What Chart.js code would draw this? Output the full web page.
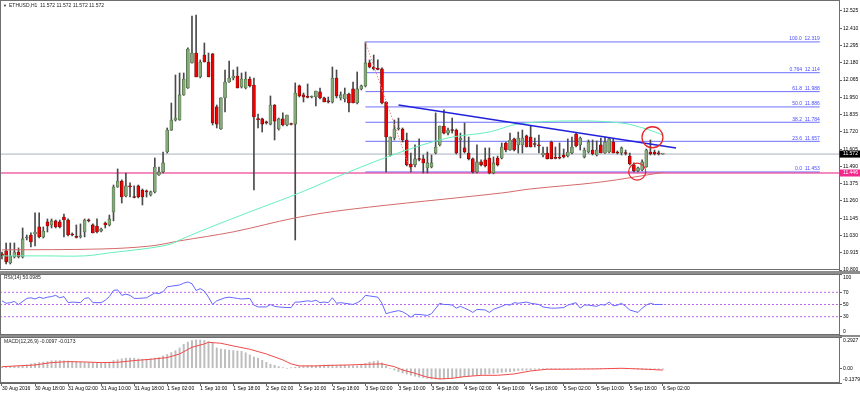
<!DOCTYPE html>
<html><head><meta charset="utf-8">
<script src="https://cdn.jsdelivr.net/npm/chart.js@4.4.0/dist/chart.umd.min.js"></script>
<style>
html,body{margin:0;padding:0;background:#fff;width:860px;height:394px;overflow:hidden;position:relative}
canvas{position:absolute;left:0}
.sep{position:absolute;left:0;width:860px;background:#8c8c8c}
</style></head><body>
<div class="sep" style="top:271px;height:3px"></div>
<div class="sep" style="top:335px;height:2px"></div>
<canvas id="main" width="860" height="272" style="top:0;width:860px;height:272px"></canvas>
<canvas id="rsi" width="860" height="64" style="top:272px;width:860px;height:64px"></canvas>
<canvas id="macd" width="860" height="58" style="top:336px;width:860px;height:58px"></canvas>
<script>
const FONT = '"Liberation Sans", Arial, sans-serif';

// ---- data ----
const xTickLabels = ["30 Aug 2016","30 Aug 18:00","31 Aug 02:00","31 Aug 10:00","31 Aug 18:00","1 Sep 02:00","1 Sep 10:00","1 Sep 18:00","2 Sep 02:00","2 Sep 10:00","2 Sep 18:00","3 Sep 02:00","3 Sep 10:00","3 Sep 18:00","4 Sep 02:00","4 Sep 10:00","4 Sep 18:00","5 Sep 02:00","5 Sep 10:00","5 Sep 18:00","6 Sep 02:00"];
const priceTicks = [12.525,12.410,12.295,12.180,12.065,11.950,11.835,11.720,11.605,11.490,11.375,11.260,11.145,11.030,10.915,10.800];

const openP = [10.907,10.927,10.847,10.887,10.920,10.887,11.013,11.033,11.040,11.087,
11.020,11.120,11.100,11.127,11.120,11.153,11.133,11.040,11.020,11.020,
11.053,11.133,11.100,11.093,11.060,11.113,11.100,11.186,11.353,11.393,
11.293,11.360,11.286,11.360,11.333,11.326,11.300,11.320,11.433,11.453,
11.586,11.732,11.799,11.799,11.966,12.012,12.179,12.245,12.086,12.232,
12.185,12.239,11.886,11.739,11.946,12.052,12.079,12.092,12.019,12.012,
12.072,12.032,11.806,11.806,11.786,11.772,11.899,11.739,11.806,11.766,
11.772,11.772,12.026,11.966,11.952,11.952,11.952,11.986,11.946,11.926,
11.919,12.079,11.946,11.939,11.972,12.006,11.912,12.006,12.026,12.179,
12.152,12.139,12.139,11.919,11.566,11.679,11.739,11.739,11.666,11.506,
11.500,11.540,11.540,11.480,11.486,11.579,11.633,11.759,11.712,11.732,
11.732,11.666,11.613,11.579,11.540,11.453,11.520,11.533,11.546,11.446,
11.546,11.546,11.646,11.599,11.673,11.633,11.633,11.693,11.686,11.639,
11.633,11.566,11.579,11.652,11.546,11.546,11.566,11.559,11.579,11.706,
11.633,11.553,11.586,11.599,11.566,11.633,11.579,11.586,11.652,11.586,
11.579,11.579,11.559,11.500,11.460,11.466,11.486,11.586,11.586,11.579,
11.572];
const highP = [10.920,10.980,10.980,10.980,10.947,11.080,11.033,11.047,11.180,11.180,
11.087,11.140,11.140,11.133,11.133,11.173,11.140,11.047,11.100,11.107,
11.140,11.140,11.107,11.140,11.080,11.120,11.166,11.366,11.473,11.400,
11.446,11.380,11.360,11.366,11.340,11.333,11.326,11.546,11.486,11.586,
11.746,11.912,12.099,12.112,12.112,12.279,12.491,12.498,12.199,12.312,
12.245,12.242,11.899,11.946,12.132,12.192,12.132,12.152,12.112,12.119,
12.086,12.079,11.839,11.812,11.792,11.959,11.902,11.812,11.846,11.832,
11.779,12.046,12.032,11.979,12.039,11.959,11.992,12.012,11.952,11.952,
12.152,12.132,11.986,12.012,11.979,12.052,12.119,12.032,12.318,12.199,
12.232,12.199,12.146,11.921,11.686,11.799,11.812,11.746,11.712,11.579,
11.633,11.673,11.566,11.586,11.566,11.846,11.759,11.866,11.746,11.812,
11.739,11.712,11.779,11.686,11.546,11.633,11.533,11.613,11.613,11.553,
11.559,11.646,11.652,11.712,11.679,11.719,11.732,11.699,11.759,11.679,
11.699,11.619,11.619,11.659,11.619,11.646,11.606,11.673,11.686,11.712,
11.686,11.613,11.666,11.666,11.659,11.679,11.686,11.679,11.673,11.593,
11.619,11.599,11.579,11.513,11.486,11.533,11.606,11.666,11.599,11.593,
11.572];
const lowP = [10.874,10.840,10.840,10.880,10.880,10.880,11.000,10.954,10.960,11.013,
11.013,11.053,11.080,11.080,11.080,11.020,11.027,11.027,11.013,11.013,
11.020,11.120,11.047,11.047,11.053,11.080,11.093,11.127,11.350,11.246,
11.286,11.286,11.280,11.280,11.233,11.286,11.293,11.313,11.430,11.446,
11.579,11.730,11.792,11.797,11.963,12.010,12.177,12.086,12.079,12.185,
12.086,11.766,11.746,11.737,11.852,12.050,12.066,12.012,12.012,12.006,
12.019,11.333,11.746,11.719,11.772,11.766,11.666,11.732,11.759,11.759,
11.766,11.000,11.952,11.919,11.946,11.946,11.892,11.939,11.919,11.912,
11.912,11.946,11.932,11.919,11.852,11.912,11.906,11.999,12.019,12.146,
12.132,12.132,11.906,11.453,11.559,11.666,11.732,11.652,11.493,11.453,
11.486,11.526,11.446,11.446,11.480,11.573,11.626,11.706,11.699,11.712,
11.573,11.546,11.579,11.533,11.446,11.446,11.493,11.486,11.440,11.440,
11.493,11.540,11.586,11.597,11.593,11.579,11.579,11.619,11.619,11.619,
11.579,11.553,11.540,11.540,11.540,11.540,11.546,11.553,11.573,11.619,
11.599,11.546,11.579,11.566,11.559,11.579,11.577,11.579,11.579,11.573,
11.566,11.566,11.500,11.453,11.453,11.460,11.484,11.566,11.566,11.566,
11.572];
const closeP = [10.894,10.854,10.894,10.920,10.887,11.007,11.020,10.987,11.053,11.020,
11.060,11.093,11.127,11.087,11.087,11.133,11.033,11.033,11.017,11.027,
11.133,11.127,11.047,11.053,11.073,11.100,11.140,11.353,11.393,11.286,
11.360,11.353,11.283,11.286,11.286,11.320,11.320,11.486,11.453,11.513,
11.732,11.799,11.812,11.966,12.072,12.272,12.245,12.086,12.185,12.185,
12.086,11.779,11.772,11.946,12.052,12.079,12.092,12.012,12.072,12.072,
12.026,11.819,11.802,11.772,11.779,11.899,11.792,11.806,11.766,11.832,
11.769,11.979,11.959,11.952,11.950,11.956,11.992,11.946,11.919,11.919,
12.079,11.959,11.966,11.972,11.912,11.912,12.006,12.026,12.179,12.152,
12.139,12.136,11.912,11.686,11.686,11.739,11.746,11.666,11.500,11.486,
11.540,11.536,11.513,11.513,11.513,11.619,11.759,11.712,11.732,11.729,
11.579,11.679,11.586,11.540,11.453,11.520,11.500,11.493,11.446,11.513,
11.500,11.619,11.599,11.666,11.599,11.679,11.679,11.619,11.619,11.636,
11.626,11.579,11.540,11.540,11.543,11.544,11.553,11.586,11.619,11.626,
11.679,11.599,11.652,11.573,11.599,11.579,11.652,11.673,11.579,11.579,
11.613,11.576,11.506,11.460,11.480,11.520,11.599,11.573,11.573,11.573,
11.572];

const maFastIdx = [0,10,20,26,36,41,43,50,60,72,84,96,108,118,125,138,150,156,160];
const maFastVal = [10.894,10.894,10.894,10.914,10.947,10.974,11.000,11.080,11.187,11.313,11.453,11.580,11.680,11.719,11.773,11.793,11.779,11.739,11.699];
const maSlowIdx = [0,24,36,43,56,71,84,121,128,145,160];
const maSlowVal = [10.934,10.940,10.960,10.994,11.054,11.147,11.203,11.313,11.340,11.386,11.450];

const fibLevels = ["100.0","0.764","61.8","50.0","38.2","23.6","0.0"];
const fibPrices = [12.319,12.114,11.988,11.886,11.784,11.657,11.453];
const fibStartIdx = 88, fibEndIdx = 198;
const fibSwingIdx = [88, 99], fibSwingVal = [12.319, 11.453];
const trendIdx = [96, 163.2], trendVal = [11.899, 11.613];
const bidPrice = 11.572, hLinePrice = 11.446;
const circleIdx = [157.5, 153.8], circleVal = [11.684, 11.455], circleSize = [10.5, 8.5];

const rsiIdx = [0,1,2,3,4,6,7,8,9,10,11,12,13,14,15,16,17,19,20,21,22,24,25,26,27,28,29,30,31,32,33,35,37,38,39,40,41,43,44,45,46,47,48,49,50,51,52,54,55,56,57,58,60,61,62,64,65,66,67,69,70,71,72,74,75,76,77,78,79,80,81,82,83,85,86,87,88,89,91,92,93,94,96,97,98,99,100,102,103,104,106,107,108,109,110,111,112,113,114,115,117,118,119,121,122,123,124,125,127,128,130,131,133,134,136,137,139,140,141,142,144,145,146,147,148,149,150,151,152,154,155,156,157,158,160];
const rsiVal = [56,52,53,55,50,60,61,59,62,60,62,63,65,61,63,53,54,53,60,61,53,53,57,63,73,74,65,67,65,60,60,61,69,68,71,79,80,82,85,87,84,73,76,72,62,50,56,61,62,61,60,59,60,49,46,46,50,47,46,45,45,54,54,56,55,57,53,54,53,61,52,53,52,50,53,57,65,64,62,52,35,37,40,38,34,29,34,33,32,35,52,50,50,49,44,47,44,41,37,42,41,37,42,47,50,49,53,52,54,52,50,46,44,44,45,49,53,44,49,49,47,50,49,54,48,49,52,47,41,37,44,49,52,50,50.0985];
const rsiLevels = [70, 50, 30];
const rsiAxis = [100, 70, 50, 30, 0];

const macdHist = [0.012,0.015,0.018,0.020,0.022,0.025,0.031,0.040,0.047,0.053,
0.058,0.062,0.070,0.072,0.072,0.070,0.068,0.064,0.060,0.056,
0.054,0.053,0.053,0.050,0.047,0.050,0.058,0.072,0.080,0.088,
0.094,0.095,0.094,0.088,0.084,0.084,0.090,0.095,0.100,0.115,
0.130,0.147,0.165,0.190,0.225,0.245,0.259,0.265,0.265,0.262,
0.250,0.235,0.190,0.180,0.175,0.170,0.165,0.162,0.158,0.145,
0.125,0.105,0.094,0.075,0.055,0.038,0.028,0.016,0.006,0.000,
0.004,0.010,0.016,0.022,0.024,0.025,0.025,0.028,0.031,0.031,
0.030,0.025,0.030,0.030,0.025,0.024,0.022,0.032,0.045,0.058,
0.064,0.069,0.050,0.020,0.000,-0.016,-0.031,-0.044,-0.054,-0.065,
-0.075,-0.082,-0.088,-0.094,-0.100,-0.100,-0.100,-0.100,-0.095,-0.092,
-0.089,-0.085,-0.080,-0.074,-0.068,-0.064,-0.060,-0.056,-0.053,-0.048,
-0.043,-0.038,-0.034,-0.031,-0.027,-0.022,-0.020,-0.017,-0.015,-0.011,
-0.009,-0.008,-0.007,-0.006,-0.006,-0.006,-0.006,-0.005,-0.005,-0.005,
-0.005,-0.004,-0.004,-0.004,-0.003,-0.003,-0.002,-0.002,-0.002,-0.001,
-0.001,0.000,0.000,-0.004,-0.008,-0.012,-0.014,-0.014,-0.012,-0.011,
-0.0097];
const sigIdx = [0,8,12,16,20,24,28,32,36,40,43,46,49,50,53,56,60,64,68,70,72,76,80,84,88,92,95,97,100,102,103,106,109,112,116,120,124,128,132,136,144,150,152,156,160];
const sigVal = [0.015,0.031,0.053,0.062,0.059,0.053,0.056,0.072,0.084,0.100,0.134,0.197,0.228,0.243,0.234,0.209,0.178,0.134,0.078,0.041,0.022,0.022,0.028,0.031,0.037,0.041,0.015,-0.016,-0.047,-0.072,-0.084,-0.100,-0.094,-0.078,-0.066,-0.066,-0.053,-0.025,-0.009,-0.009,-0.006,0.000,-0.003,-0.009,-0.0173];
const macdAxisVal = [0.2927, 0, -0.1379];
const macdAxisLbl = ["0.2927", "0.00", "-0.1379"];

// ---- view ----
const X_MIN = -0.484, X_MAX = 202.66;
const AXIS_W = 21;
const idx = openP.map((_, i) => i);
const pts = (xs, ys) => xs.map((x, i) => ({x, y: ys[i]}));
const hline = v => [{x: X_MIN, y: v}, {x: X_MAX, y: v}];
const noTip = {legend: {display: false}, tooltip: {enabled: false}};

const panel = {
  id: 'panel',
  afterDraw(chart, args, o) {
    const {ctx, chartArea: a} = chart;
    ctx.save();
    ctx.strokeStyle = '#6e6e6e'; ctx.lineWidth = 1;
    ctx.strokeRect(a.left + 0.5, a.top + 0.5, a.right - a.left, a.bottom - a.top - 1);
    ctx.font = '5px ' + FONT; ctx.fillStyle = '#222'; ctx.textAlign = 'left'; ctx.textBaseline = 'middle';
    if (o.title) ctx.fillText(o.title, o.titleX, a.top + o.titleDy);
    if (o.extra) o.extra(chart, ctx);
    ctx.restore();
  }
};
Chart.register(panel);

function xScale(show) {
  return {type: 'linear', min: X_MIN, max: X_MAX, offset: false, display: show,
    grid: {offset: false, drawOnChartArea: false, tickLength: 3, color: '#666'},
    border: {color: '#666'}};
}
function sideAxis(extra) {
  return Object.assign({position: 'right',
    afterFit(s) { s.width = AXIS_W; s.paddingTop = 0; s.paddingBottom = 0; },
    grid: {drawOnChartArea: false, tickLength: 3, color: '#666'},
    border: {color: '#666'}}, extra);
}
function sideLabels(chart, ctx, vals, lbls) {
  const y = chart.scales.y, a = chart.chartArea;
  ctx.fillStyle = '#000'; ctx.font = '5px ' + FONT; ctx.textAlign = 'left'; ctx.textBaseline = 'middle';
  vals.forEach((v, i) => {
    let py = y.getPixelForValue(v);
    py = Math.min(Math.max(py, a.top + 3.5), a.bottom - 3.5);
    ctx.fillText(lbls[i], a.right + 4, py);
  });
}

// ---- main price chart ----
const bull = idx.map(i => closeP[i] >= openP[i]);
const mainSets = [];
fibPrices.forEach(p => mainSets.push({type: 'line', order: 6,
  data: [{x: fibStartIdx, y: p}, {x: fibEndIdx, y: p}], borderColor: '#6f6fff', borderWidth: 1, pointRadius: 0}));
mainSets.push({type: 'line', order: 7, data: hline(bidPrice), borderColor: '#aab2c0', borderWidth: 1, pointRadius: 0});
mainSets.push({type: 'line', order: 5, data: hline(hLinePrice), borderColor: '#e8197f', borderWidth: 1, pointRadius: 0});
mainSets.push({type: 'bar', order: 4, grouped: false, barThickness: 1,
  data: idx.map(i => ({x: i, y: [lowP[i], highP[i]]})), backgroundColor: '#4a4a4a'});
mainSets.push({type: 'bar', order: 3, grouped: false, barThickness: 3, minBarLength: 1,
  data: idx.map(i => ({x: i, y: [openP[i], closeP[i]]})),
  backgroundColor: bull.map(b => b ? '#86a97a' : '#f20000'),
  borderColor: bull.map(b => b ? '#3f5a3a' : '#5a0b0b'), borderWidth: 0.6, borderSkipped: false});
mainSets.push({type: 'line', order: 2, data: pts(maFastIdx, maFastVal), borderColor: '#66f0bc', borderWidth: 1, pointRadius: 0, tension: 0.35});
mainSets.push({type: 'line', order: 2, data: pts(maSlowIdx, maSlowVal), borderColor: '#d46a6a', borderWidth: 1, pointRadius: 0, tension: 0.35});
mainSets.push({type: 'line', order: 1, data: pts(fibSwingIdx, fibSwingVal), borderColor: '#f08a8a', borderWidth: 1, borderDash: [1.5, 1.5], pointRadius: 0});
mainSets.push({type: 'line', order: 1, data: pts(trendIdx, trendVal), borderColor: '#2222dd', borderWidth: 1.6, pointRadius: 0});
mainSets.push({type: 'line', order: 0, showLine: false, data: pts(circleIdx, circleVal),
  pointRadius: circleSize, pointStyle: 'circle', pointBackgroundColor: 'rgba(0,0,0,0)', pointBorderColor: '#e8262a', pointBorderWidth: 1.3});

function priceBox(chart, ctx, price, bg) {
  const py = chart.scales.y.getPixelForValue(price), a = chart.chartArea;
  ctx.fillStyle = bg; ctx.fillRect(a.right + 0.5, py - 3.5, AXIS_W, 7);
  ctx.fillStyle = '#fff'; ctx.textAlign = 'left'; ctx.textBaseline = 'middle';
  ctx.fillText(price.toFixed(3), a.right + 4, py);
}

new Chart(document.getElementById('main'), {
  type: 'bar',
  data: {datasets: mainSets},
  options: {
    responsive: false, animation: false, events: [],
    layout: {autoPadding: false, padding: {left: 0, top: 0, right: 0, bottom: 2}},
    plugins: Object.assign({}, noTip, {panel: {
      title: 'ETHUSD,H1  11.572 11.572 11.572 11.572', titleX: 9, titleDy: 5.5,
      extra(chart, ctx) {
        ctx.font = '4px ' + FONT; ctx.fillStyle = '#222';
        ctx.fillText('\u25BC', 3, chart.chartArea.top + 5.5);
        ctx.font = '5px ' + FONT;
        const x = chart.scales.x, y = chart.scales.y;
        ctx.fillStyle = '#4b4bff'; ctx.textAlign = 'right'; ctx.textBaseline = 'bottom';
        const xr = x.getPixelForValue(fibEndIdx);
        fibPrices.forEach((p, i) => ctx.fillText(fibLevels[i] + '  ' + p.toFixed(3), xr, y.getPixelForValue(p) - 0.5));
        priceBox(chart, ctx, bidPrice, '#000');
        priceBox(chart, ctx, hLinePrice, '#f0288c');
      }}}),
    scales: {
      x: xScale(false),
      y: sideAxis({min: 10.800, max: 12.5982,
        afterBuildTicks(s) { s.ticks = priceTicks.map(v => ({value: v})); },
        ticks: {autoSkip: false, padding: 1, color: '#000', font: {family: FONT, size: 5},
          callback: v => Number(v).toFixed(3)}})
    }
  }
});

// ---- RSI ----
const rsiSets = rsiLevels.map(l => ({data: hline(l), borderColor: '#c066ee', borderWidth: 1, borderDash: [2, 2], pointRadius: 0}));
rsiSets.unshift({data: pts(rsiIdx, rsiVal), borderColor: '#6666ff', borderWidth: 1, pointRadius: 0});
new Chart(document.getElementById('rsi'), {
  type: 'line',
  data: {datasets: rsiSets},
  options: {
    responsive: false, animation: false, events: [],
    layout: {autoPadding: false, padding: {left: 0, top: 2, right: 0, bottom: 1}},
    plugins: Object.assign({}, noTip, {panel: {title: 'RSI(14) 50.0985', titleX: 4, titleDy: 3.5,
      extra(chart, ctx) { sideLabels(chart, ctx, rsiAxis, rsiAxis.map(String)); }}}),
    scales: {
      x: xScale(false),
      y: sideAxis({min: 0, max: 100,
        afterBuildTicks(s) { s.ticks = rsiAxis.map(v => ({value: v})); },
        ticks: {display: false}})
    }
  }
});

// ---- MACD ----
new Chart(document.getElementById('macd'), {
  type: 'bar',
  data: {datasets: [
    {type: 'line', data: pts(sigIdx, sigVal), borderColor: '#f24a4a', borderWidth: 1, pointRadius: 0},
    {type: 'bar', grouped: false, barThickness: 1.3, data: idx.map(i => ({x: i, y: macdHist[i]})), backgroundColor: '#bdbdbd'}
  ]},
  options: {
    responsive: false, animation: false, events: [],
    layout: {autoPadding: false, padding: {left: 0, top: 1, right: 0, bottom: 0}},
    plugins: Object.assign({}, noTip, {panel: {title: 'MACD(12,26,9) -0.0097 -0.0173', titleX: 4, titleDy: 4.3,
      extra(chart, ctx) { sideLabels(chart, ctx, macdAxisVal, macdAxisLbl); }}}),
    scales: {
      x: Object.assign(xScale(true), {
        afterBuildTicks(s) { s.ticks = xTickLabels.map((_, i) => ({value: i * 8})); },
        afterFit(s) { s.height = 11; s.paddingLeft = 0; s.paddingRight = 0; },
        ticks: {autoSkip: false, maxRotation: 0, minRotation: 0, align: 'start', padding: 0, color: '#000',
          font: {family: FONT, size: 5}, callback: (v, i) => xTickLabels[i]}
      }),
      y: sideAxis({min: -0.1379, max: 0.2927,
        afterBuildTicks(s) { s.ticks = macdAxisVal.map(v => ({value: v})); },
        ticks: {display: false}})
    }
  }
});
</script>
</body></html>
